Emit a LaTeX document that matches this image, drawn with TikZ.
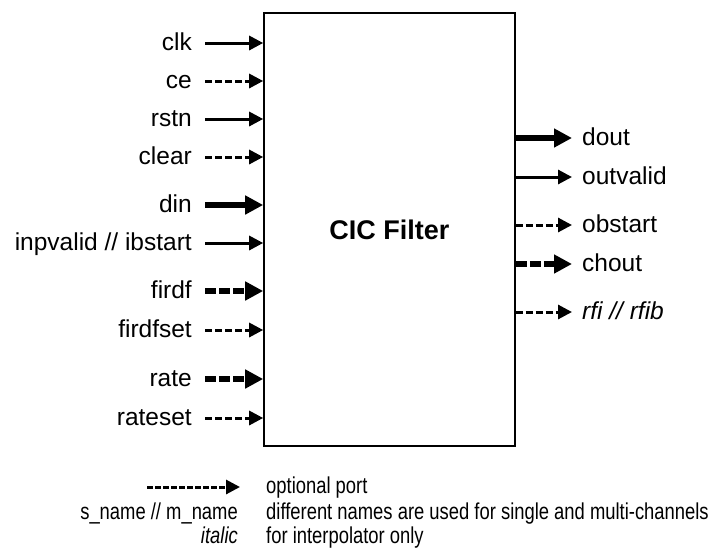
\documentclass[tikz,border=0pt]{standalone}
\usepackage{fontspec}
\setmainfont{Liberation Sans}
\newfontfamily\narrowfont{Liberation Sans}[FakeStretch=0.8]
\usetikzlibrary{arrows.meta, calc}

\begin{document}
\begin{tikzpicture}[
        x=1pt, y=-1pt,
        box/.style={
            draw,
            line width=1.6pt,
            minimum width=251pt,
            minimum height=433pt,
            font=\fontsize{27}{30}\selectfont\bfseries
        },
        lbl/.style={
            inner sep=0pt,
            font=\fontsize{24.5}{28}\selectfont,
            text height=18pt,
            text depth=4pt
        },
        note/.style={
            inner sep=0pt,
            font=\narrowfont\fontsize{23}{26}\selectfont,
            text height=17pt,
            text depth=4pt
        },
        port/.style={
            -{Triangle[length=14pt, width=14pt]},
            line width=3pt
        },
        bus/.style={
            -{Triangle[length=18pt, width=18pt]},
            line width=5.5pt
        },
        opt/.style={
            port,
            dash pattern=on 7pt off 3pt
        },
        optbus/.style={
            bus,
            dash pattern=on 11pt off 3pt
        }
    ]

    \useasboundingbox (0,0) rectangle (710,552);

    % The filter block
    \node[box] (filter) at (389.5,229.5) {CIC Filter};

    % Input ports
    \node[lbl, anchor=east] (clk)      at (192,43)  {clk};
    \node[lbl, anchor=east] (ce)       at (192,81)  {ce};
    \node[lbl, anchor=east] (rstn)     at (192,119) {rstn};
    \node[lbl, anchor=east] (clear)    at (192,157) {clear};
    \node[lbl, anchor=east] (din)      at (192,205) {din};
    \node[lbl, anchor=east] (inpvalid) at (192,243) {inpvalid // ibstart};
    \node[lbl, anchor=east] (firdf)    at (192,291) {firdf};
    \node[lbl, anchor=east] (firdfset) at (192,330) {firdfset};
    \node[lbl, anchor=east] (rate)     at (192,379) {rate};
    \node[lbl, anchor=east] (rateset)  at (192,418) {rateset};

    \draw[port, shorten <=13pt]   (clk.east)      -- (clk.east -| filter.west);
    \draw[opt, shorten <=13pt]    (ce.east)       -- (ce.east -| filter.west);
    \draw[port, shorten <=13pt]   (rstn.east)     -- (rstn.east -| filter.west);
    \draw[opt, shorten <=13pt]    (clear.east)    -- (clear.east -| filter.west);
    \draw[bus, shorten <=13pt]    (din.east)      -- (din.east -| filter.west);
    \draw[port, shorten <=13pt]   (inpvalid.east) -- (inpvalid.east -| filter.west);
    \draw[optbus, shorten <=13pt] (firdf.east)    -- (firdf.east -| filter.west);
    \draw[opt, shorten <=13pt]    (firdfset.east) -- (firdfset.east -| filter.west);
    \draw[optbus, shorten <=13pt] (rate.east)     -- (rate.east -| filter.west);
    \draw[opt, shorten <=13pt]    (rateset.east)  -- (rateset.east -| filter.west);

    % Output ports
    \node[lbl, anchor=west] (dout)     at (582,138) {dout};
    \node[lbl, anchor=west] (outvalid) at (582,177) {outvalid};
    \node[lbl, anchor=west] (obstart)  at (582,225) {obstart};
    \node[lbl, anchor=west] (chout)    at (582,264) {chout};
    \node[lbl, anchor=west] (rfi)      at (582,312) {\itshape rfi // rfib};

    \draw[bus, shorten >=10pt]    (dout.west -| filter.east)     -- (dout.west);
    \draw[port, shorten >=10pt]   (outvalid.west -| filter.east) -- (outvalid.west);
    \draw[opt, shorten >=10pt]    (obstart.west -| filter.east)  -- (obstart.west);
    \draw[optbus, shorten >=10pt] (chout.west -| filter.east)    -- (chout.west);
    \draw[opt, shorten >=10pt]    (rfi.west -| filter.east)      -- (rfi.west);

    % Legend
    \coordinate (optline) at (147,487);
    \node[note, anchor=west] (optional) at (266,487) {optional port};
    \draw[opt, dash pattern=on 6pt off 2pt, shorten >=26pt]
        (optline) -- (optional.west);

    \node[note, anchor=east] (names)     at (238,513) {s\_name // m\_name};
    \node[note, anchor=west] (namesnote) at (266,513) {different names are used for single and multi-channels};

    \node[note, anchor=east] (italic)     at (238,537) {\itshape italic};
    \node[note, anchor=west] (italicnote) at (266,537) {for interpolator only};

\end{tikzpicture}
\end{document}
